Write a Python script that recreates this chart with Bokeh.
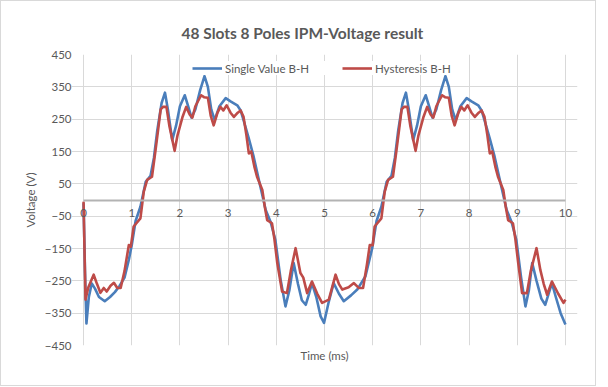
from bokeh.plotting import figure
from bokeh.models import FixedTicker, Legend, LegendItem, Title, Range1d, LabelSet, ColumnDataSource
from bokeh.embed import file_html
from bokeh.resources import INLINE
from bokeh.core.properties import value

# ---- data ----
title_text = "48 Slots 8 Poles IPM-Voltage result"
x_label = "Time (ms)"
y_label = "Voltage (V)"
x_ticks = [0, 1, 2, 3, 4, 5, 6, 7, 8, 9, 10]
y_ticks = [-450, -350, -250, -150, -50, 50, 150, 250, 350, 450]

single_name = "Single Value B-H"
single_t = [
    0, 0.03, 0.06, 0.11, 0.17, 0.24, 0.32, 0.44, 0.55, 0.65,
    0.75, 0.85, 0.94, 1.0, 1.08, 1.18, 1.29, 1.39, 1.46, 1.53,
    1.62, 1.69, 1.75, 1.84, 1.92, 2.0, 2.10, 2.17, 2.24, 2.32,
    2.42, 2.51, 2.58, 2.65, 2.72, 2.82, 2.95, 3.05, 3.19, 3.26,
    3.32, 3.43, 3.53, 3.67, 3.78, 3.88, 3.98, 4.09, 4.19, 4.27,
    4.36, 4.45, 4.53, 4.61, 4.68, 4.74, 4.83, 4.92, 4.99, 5.08,
    5.19, 5.30, 5.40, 5.55, 5.68, 5.85, 5.99, 6.08, 6.18, 6.29,
    6.39, 6.46, 6.53, 6.62, 6.69, 6.75, 6.84, 6.92, 7.0, 7.10,
    7.17, 7.24, 7.32, 7.42, 7.51, 7.58, 7.65, 7.72, 7.82, 7.95,
    8.05, 8.19, 8.26, 8.32, 8.43, 8.53, 8.67, 8.78, 8.88, 8.98,
    9.08, 9.17, 9.24, 9.31, 9.40, 9.50, 9.58, 9.65, 9.72, 9.80,
    9.90, 10.0,
]
single_v = [
    -10, -220, -382, -300, -258, -275, -300, -313, -300, -285,
    -265, -240, -185, -140, -65, -21, 56, 75, 130, 215,
    300, 332, 280, 185, 230, 290, 324, 290, 255, 280,
    340, 383, 350, 280, 247, 290, 315, 305, 293, 277,
    247, 190, 134, 41, -31, -67, -123, -247, -329, -280,
    -195, -260, -310, -324, -290, -257, -300, -360, -380, -320,
    -257, -290, -313, -295, -277, -236, -149, -65, -21, 56,
    75, 130, 215, 300, 332, 280, 185, 230, 290, 324,
    290, 255, 280, 340, 383, 350, 280, 247, 290, 315,
    305, 293, 277, 247, 190, 134, 41, -31, -67, -123,
    -240, -329, -280, -195, -250, -305, -324, -290, -257, -300,
    -350, -385,
]

hyst_name = "Hysteresis B-H"
hyst_t = [
    0, 0.04, 0.1, 0.21, 0.28, 0.35, 0.42, 0.48, 0.56, 0.63,
    0.70, 0.77, 0.85, 0.94, 0.98, 1.04, 1.18, 1.25, 1.32, 1.42,
    1.49, 1.55, 1.60, 1.65, 1.72, 1.78, 1.89, 1.95, 2.05, 2.13,
    2.2, 2.26, 2.32, 2.44, 2.5, 2.58, 2.64, 2.7, 2.78, 2.84,
    2.9, 2.97, 3.05, 3.12, 3.2, 3.26, 3.32, 3.38, 3.43, 3.48,
    3.55, 3.6, 3.71, 3.76, 3.81, 3.91, 3.96, 4.02, 4.12, 4.22,
    4.3, 4.40, 4.50, 4.56, 4.64, 4.74, 4.85, 4.95, 5.09, 5.23,
    5.30, 5.37, 5.5, 5.61, 5.71, 5.8, 5.88, 5.94, 6.0, 6.04,
    6.18, 6.25, 6.32, 6.42, 6.49, 6.55, 6.60, 6.65, 6.72, 6.78,
    6.89, 6.95, 7.05, 7.13, 7.2, 7.26, 7.32, 7.44, 7.5, 7.58,
    7.64, 7.7, 7.78, 7.84, 7.9, 7.97, 8.05, 8.12, 8.2, 8.26,
    8.32, 8.38, 8.43, 8.48, 8.55, 8.6, 8.71, 8.76, 8.81, 8.91,
    8.96, 9.02, 9.10, 9.20, 9.28, 9.40, 9.48, 9.55, 9.62, 9.72,
    9.85, 9.96, 10.0,
]
hyst_v = [
    -5, -308, -270, -231, -260, -287, -272, -283, -265, -256,
    -272, -272, -220, -139, -145, -82, -57, 26, 62, 72,
    150, 220, 280, 288, 288, 230, 152, 200, 255, 288,
    265, 255, 290, 324, 318, 316, 260, 231, 270, 288,
    277, 293, 270, 257, 270, 277, 257, 200, 144, 150,
    100, 72, 31, -20, -62, -72, -120, -195, -283, -288,
    -220, -149, -226, -240, -288, -252, -290, -318, -308, -231,
    -260, -277, -270, -257, -272, -272, -200, -139, -140, -82,
    -57, 26, 62, 72, 150, 220, 280, 288, 288, 230,
    152, 200, 255, 288, 265, 255, 290, 324, 318, 316,
    260, 231, 270, 288, 277, 293, 270, 257, 270, 277,
    257, 200, 144, 150, 100, 72, 31, -20, -62, -72,
    -120, -195, -288, -288, -220, -149, -217, -260, -293, -252,
    -290, -318, -308,
]

FONT = "Lato"
TXT = "#595959"
X_PAD = 0.25  # room so that the end tick labels are not clipped

p = figure(width=596, height=386, output_backend="svg", toolbar_location=None,
           x_range=Range1d(x_ticks[0] - X_PAD, x_ticks[-1] + X_PAD),
           y_range=Range1d(y_ticks[0], y_ticks[-1]),
           min_border_left=70, min_border_right=20, min_border_top=53,
           min_border_bottom=42)
p.outline_line_color = None
p.background_fill_color = "white"
p.border_fill_color = "white"
p.styles = {"border": "1px solid #d9d9d9"}

p.title.text = title_text
p.title.align = "left"
p.title.offset = 110
p.title.text_font = FONT
p.title.text_font_size = "15.5px"
p.title.text_font_style = "bold"
p.title.text_color = TXT
p.title.standoff = 25

# grids limited to the plot area 0..10
p.xgrid.ticker = FixedTicker(ticks=x_ticks)
p.ygrid.ticker = FixedTicker(ticks=y_ticks)
p.ygrid.bounds = (x_ticks[0], x_ticks[-1])
p.grid.grid_line_color = "#d9d9d9"
p.grid.grid_line_width = 1

# x axis line drawn at y = 0
xa = p.xaxis[0]
xa.ticker = FixedTicker(ticks=x_ticks)
xa.fixed_location = 0
xa.bounds = (x_ticks[0], x_ticks[-1])
xa.axis_line_color = "#b3b3b3"
xa.axis_line_width = 2
xa.major_tick_in = 0
xa.major_tick_out = 0
xa.minor_tick_in = 0
xa.minor_tick_out = 0
xa.major_label_text_color = None

# x tick labels just below the zero line
tick_src = ColumnDataSource(dict(x=x_ticks, y=[0] * len(x_ticks),
                                 text=[str(t) for t in x_ticks]))
p.add_layout(LabelSet(x="x", y="y", text="text", source=tick_src,
                      text_align="center", text_baseline="top", y_offset=-9,
                      text_font=value(FONT), text_font_size="11.5px",
                      text_color=TXT))

ya = p.yaxis[0]
ya.ticker = FixedTicker(ticks=y_ticks)
ya.axis_line_color = None
ya.major_tick_in = 0
ya.major_tick_out = 0
ya.minor_tick_in = 0
ya.minor_tick_out = 0
ya.major_label_standoff = 0
ya.major_label_text_font = FONT
ya.major_label_text_font_size = "11.5px"
ya.major_label_text_color = TXT
ya.axis_label = y_label
ya.axis_label_standoff = 5
ya.axis_label_text_font = FONT
ya.axis_label_text_font_size = "11.5px"
ya.axis_label_text_font_style = "normal"
ya.axis_label_text_color = TXT

xt = Title(text=x_label, align="center", text_font=FONT, text_font_size="11.5px",
           text_font_style="normal", text_color=TXT, standoff=2)
p.add_layout(xt, "below")

r1 = p.line(single_t, single_v, line_color="#4a7ebb", line_width=2.6, line_join="round")
r2 = p.line(hyst_t, hyst_v, line_color="#be4b48", line_width=2.6, line_join="round")

legend = Legend(items=[LegendItem(label=value(single_name), renderers=[r1]),
                       LegendItem(label=value(hyst_name), renderers=[r2])],
                orientation="horizontal", location=(121, 270),
                glyph_width=30, glyph_height=14, label_standoff=3, spacing=33,
                padding=3, margin=0, border_line_color=None,
                background_fill_color="white", background_fill_alpha=1,
                label_text_font=FONT, label_text_font_size="11.5px",
                label_text_color=TXT)
p.add_layout(legend, "center")

open("out.html", "w").write(file_html(p, INLINE))
